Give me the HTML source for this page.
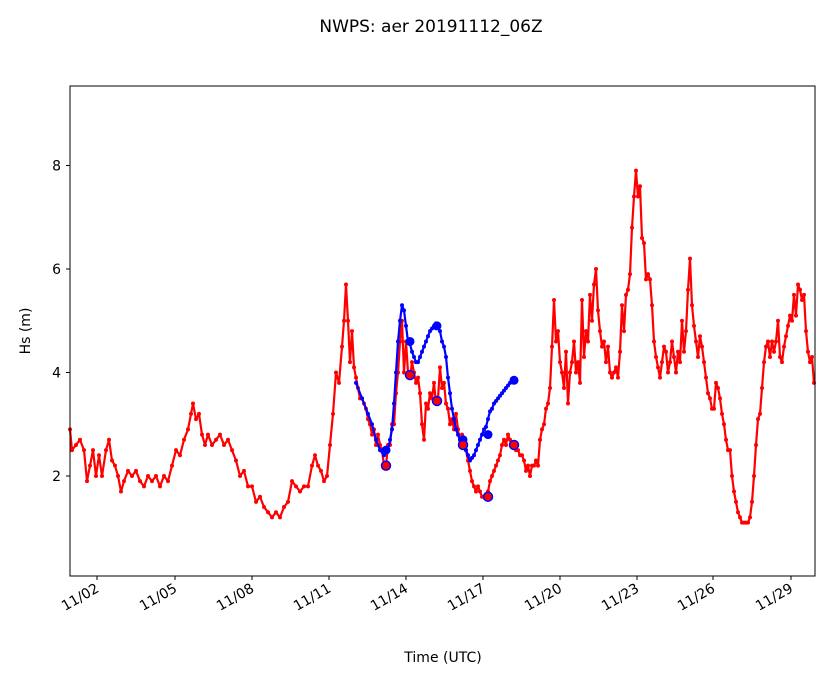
<!DOCTYPE html>
<html><head><meta charset="utf-8"><style>
body{margin:0;background:#fff}
svg text{font-family:"DejaVu Sans","Liberation Sans",sans-serif;fill:#000}
</style></head><body>
<svg id="s" width="833" height="681" xmlns="http://www.w3.org/2000/svg">
<rect width="833" height="681" fill="#fff"/>
<text x="431" y="32" font-size="17" text-anchor="middle">NWPS: aer 20191112_06Z</text>
<text x="443" y="662" font-size="14" text-anchor="middle">Time (UTC)</text>
<text transform="translate(30,331) rotate(-90)" font-size="14" text-anchor="middle">Hs (m)</text>
<g id="g"></g>
<rect x="70" y="86" width="745" height="490" fill="none" stroke="#000" stroke-width="1"/>
</svg>
<script>
var Y=function(v){return 579.5-v*51.75};
var red="70:2.9,72:2.5,76:2.6,80:2.7,84:2.5,87:1.9,90:2.2,93:2.5,96:2.0,99:2.4,102:2.0,106:2.5,109:2.7,112:2.3,115:2.2,118:2.0,121:1.7,124:1.9,128:2.1,132:2.0,136:2.1,140:1.9,144:1.8,148:2.0,152:1.9,156:2.0,160:1.8,164:2.0,168:1.9,172:2.2,176:2.5,180:2.4,184:2.7,188:2.9,191:3.2,193:3.4,196:3.1,199:3.2,202:2.8,205:2.6,208:2.8,212:2.6,216:2.7,220:2.8,224:2.6,228:2.7,232:2.5,236:2.3,240:2.0,244:2.1,248:1.8,252:1.8,256:1.5,260:1.6,264:1.4,268:1.3,272:1.2,276:1.3,280:1.2,284:1.4,288:1.5,292:1.9,296:1.8,300:1.7,304:1.8,308:1.8,312:2.2,315:2.4,318:2.2,321:2.1,324:1.9,327:2.0,330:2.6,333:3.2,336:4.0,339:3.8,342:4.5,344:5.0,346:5.7,348:5.0,350:4.2,352:4.8,354:4.1,356:3.9,358:3.7,360:3.5,362:3.5,364:3.4,366:3.3,368:3.1,370:3.0,372:2.8,374:2.9,376:2.6,378:2.8,380:2.6,382:2.5,384:2.2,386:2.2,388:2.6,390:2.6,392:3.0,394:3.0,396:3.6,398:4.0,400:4.6,402:5.0,404:4.0,406:4.6,408:4.0,410:3.9,412:4.2,414:4.0,416:3.8,418:3.9,420:3.6,422:3.0,424:2.7,426:3.4,428:3.3,430:3.6,432:3.5,434:3.8,436:3.4,438:3.5,440:4.1,442:3.7,444:3.8,446:3.4,448:3.3,450:3.0,452:3.1,454:2.9,456:3.2,458:2.9,460:2.6,462:2.8,464:2.6,466:2.5,468:2.3,470:2.1,472:1.9,474:1.8,476:1.7,478:1.8,480:1.7,482:1.6,484:1.6,486:1.6,488:1.7,490:1.9,492:2.0,494:2.1,496:2.2,498:2.3,500:2.4,502:2.6,504:2.7,506:2.6,508:2.8,510:2.7,512:2.6,514:2.6,516:2.5,518:2.5,520:2.4,522:2.4,524:2.3,526:2.1,528:2.2,530:2.0,532:2.2,534:2.2,536:2.3,538:2.2,540:2.7,542:2.9,544:3.0,546:3.3,548:3.4,550:3.7,552:4.5,554:5.4,556:4.6,558:4.8,560:4.2,562:4.0,564:3.7,566:4.4,568:3.4,570:4.0,572:4.2,574:4.6,576:4.0,578:4.2,580:3.8,582:5.4,584:4.3,586:4.8,588:4.6,590:5.5,592:5.0,594:5.7,596:6.0,598:5.2,600:4.8,602:4.5,604:4.6,606:4.2,608:4.5,610:4.0,612:3.9,614:4.0,616:4.1,618:3.9,620:4.4,622:5.3,624:4.8,626:5.5,628:5.6,630:5.9,632:6.8,634:7.4,636:7.9,638:7.4,640:7.6,642:6.6,644:6.5,646:5.8,648:5.9,650:5.8,652:5.3,654:4.6,656:4.3,658:4.1,660:3.9,662:4.2,664:4.5,666:4.4,668:4.0,670:4.2,672:4.6,674:4.3,676:4.0,678:4.4,680:4.2,682:5.0,684:4.4,686:4.8,688:5.6,690:6.2,692:5.3,694:4.9,696:4.6,698:4.3,700:4.7,702:4.5,704:4.2,706:3.9,708:3.6,710:3.5,712:3.3,714:3.3,716:3.8,718:3.7,720:3.5,722:3.2,724:3.0,726:2.7,728:2.5,730:2.5,732:2.0,734:1.7,736:1.5,738:1.3,740:1.2,742:1.1,744:1.1,746:1.1,748:1.1,750:1.2,752:1.5,754:2.0,756:2.6,758:3.1,760:3.2,762:3.7,764:4.2,766:4.5,768:4.6,770:4.3,772:4.6,774:4.4,776:4.6,778:5.0,780:4.3,782:4.2,784:4.5,786:4.7,788:4.9,790:5.1,792:5.0,794:5.5,796:5.1,798:5.7,800:5.6,802:5.4,804:5.5,806:4.8,808:4.4,810:4.2,812:4.3,814:3.8";
var blue="356:3.8,362:3.5,368:3.2,372:3.0,376:2.7,380:2.5,384:2.4,386:2.5,388:2.5,390:2.7,392:2.9,394:3.4,396:4.0,398:4.6,400:5.0,402:5.3,404:5.2,406:4.9,408:4.6,410:4.55,412:4.4,414:4.3,416:4.2,418:4.2,420:4.3,422:4.4,424:4.5,426:4.6,428:4.7,430:4.8,432:4.85,434:4.9,436:4.95,438:4.9,440:4.8,442:4.6,444:4.5,446:4.3,448:3.9,450:3.6,452:3.3,454:3.1,456:2.9,458:2.8,460:2.7,462:2.6,464:2.65,466:2.5,468:2.4,470:2.3,472:2.35,474:2.4,476:2.5,478:2.6,480:2.7,482:2.8,484:2.9,486:2.95,488:3.1,490:3.25,492:3.3,494:3.4,496:3.45,498:3.5,500:3.55,502:3.6,504:3.65,506:3.7,508:3.75,510:3.8,512:3.85,514:3.85,516:3.85";
function P(s){return s.split(",").map(function(p){var a=p.split(":");return [+a[0],Y(+a[1])]})}
var h="";
function series(s,c){var p=P(s);h+='<polyline fill="none" stroke="'+c+'" stroke-width="2.2" stroke-linejoin="round" points="'+p.map(function(q){return q.join(",")}).join(" ")+'"/>';p.forEach(function(q){h+='<circle cx="'+q[0]+'" cy="'+q[1]+'" r="2" fill="'+c+'"/>'})}
series(red,"#f00");series(blue,"#00f");
[[386,2.5],[410,4.6],[437,4.9],[463,2.7],[488,2.8],[514,3.85]].forEach(function(q){h+='<circle cx="'+q[0]+'" cy="'+Y(q[1])+'" r="4.5" fill="#00f"/>'});
[[386,2.2],[410,3.95],[437,3.45],[463,2.6],[488,1.6],[514,2.6]].forEach(function(q){h+='<circle cx="'+q[0]+'" cy="'+Y(q[1])+'" r="4.5" fill="#f00" stroke="#00f" stroke-width="1.5"/>'});
[2,4,6,8].forEach(function(v){var y=Y(v);h+='<line x1="66" x2="70" y1="'+y+'" y2="'+y+'" stroke="#000"/><text x="61" y="'+(y+5)+'" font-size="14" text-anchor="end">'+v+'</text>'});
var xs=[97,175,252,329,406,483,560,637,713,791],lb=["11/02","11/05","11/08","11/11","11/14","11/17","11/20","11/23","11/26","11/29"];
xs.forEach(function(x,i){h+='<line x1="'+x+'" x2="'+x+'" y1="576" y2="580" stroke="#000"/><text transform="translate('+(x+3)+',591) rotate(-30)" font-size="14" text-anchor="end">'+lb[i]+'</text>'});
document.getElementById("g").innerHTML=h;
</script>
</body></html>
